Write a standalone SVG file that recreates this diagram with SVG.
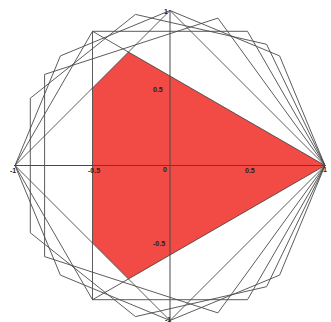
<svg xmlns="http://www.w3.org/2000/svg" width="331" height="322" viewBox="0 0 331 322">
<style>
.poly{fill:none;stroke:#4a4a4a;stroke-width:0.9}
.axis{stroke:#4a4a4a;stroke-width:1}
.lbl{font-family:"Liberation Sans",Arial,sans-serif;font-size:7px;font-weight:bold;fill:#2a2020}
</style>
<rect width="331" height="322" fill="#ffffff"/>
<g id="region"><polygon points="325,165.5 128.5,52 92.5,88 92.5,243 128.5,279" fill="#f24a44"/></g>
<g id="connectors">
<polygon class="poly" points="325,165.5 92.5,31.3 92.5,299.7"/>
<polygon class="poly" points="325,165.5 170,10.5 15,165.5 170,320.5"/>
<polygon class="poly" points="325,165.5 217.9,18.1 44.6,74.4 44.6,256.6 217.9,312.9"/>
<polygon class="poly" points="325,165.5 247.5,31.3 92.5,31.3 15,165.5 92.5,299.7 247.5,299.7"/>
<polygon class="poly" points="325,165.5 266.6,44.3 135.5,14.4 30.3,98.2 30.3,232.8 135.5,316.6 266.6,286.7"/>
<polygon class="poly" points="325,165.5 279.6,55.9 170,10.5 60.4,55.9 15,165.5 60.4,275.1 170,320.5 279.6,275.1"/>
<line class="axis" x1="14" y1="165.5" x2="326" y2="165.5"/>
<line class="axis" x1="170" y1="10" x2="170" y2="321"/>
</g>
<g id="labels">
<text class="lbl" x="164" y="14">1</text>
<text class="lbl" x="10" y="173">-1</text>
<text class="lbl" x="88" y="173">-0.5</text>
<text class="lbl" x="163" y="172">0</text>
<text class="lbl" x="245" y="173">0.5</text>
<text class="lbl" x="323" y="172">1</text>
<text class="lbl" x="153" y="92">0.5</text>
<text class="lbl" x="153" y="246">-0.5</text>
<text class="lbl" x="165" y="322">-1</text>
</g>
</svg>
